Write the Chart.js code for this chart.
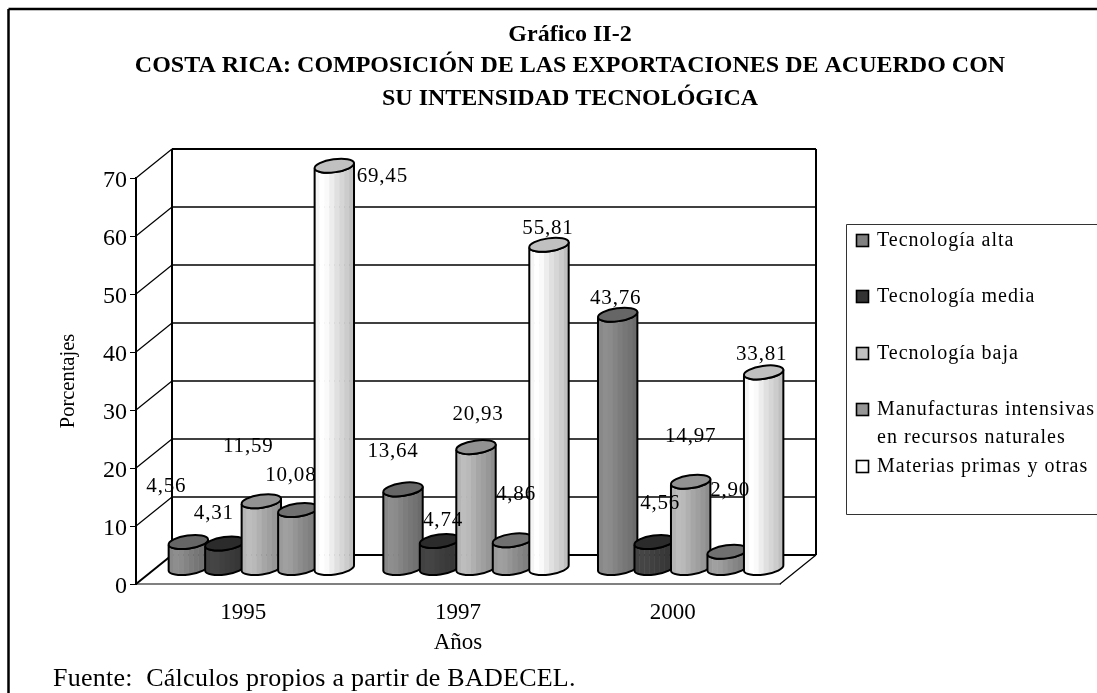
<!DOCTYPE html>
<html>
<head>
<meta charset="utf-8">
<title>Gráfico II-2</title>
<script src="https://cdn.jsdelivr.net/npm/chart.js@4"></script>
<style>
    html, body { margin: 0; background: #fff; }
    canvas { display: block; }
</style>
</head>
<body>
<canvas id="costaRicaChart" width="1097" height="693"></canvas>
<script>
const years = ["1995", "1997", "2000"];
const seriesNames = ["Tecnología alta", "Tecnología media", "Tecnología baja", "Manufacturas intensivas\nen recursos naturales", "Materias primas y otras"];
const tecnologiaAlta = [4.56, 13.64, 43.76];
const tecnologiaMedia = [4.31, 4.74, 4.56];
const tecnologiaBaja = [11.59, 20.93, 14.97];
const manufacturas = [10.08, 4.86, 2.90];
const materiasPrimas = [69.45, 55.81, 33.81];
const yTicks = [0, 10, 20, 30, 40, 50, 60, 70];
const titleLines = ["Gráfico II-2", "COSTA RICA: COMPOSICIÓN DE LAS EXPORTACIONES DE ACUERDO CON", "SU INTENSIDAD TECNOLÓGICA"];
const sourceNote = "Fuente:  Cálculos propios a partir de BADECEL.";

const allSeries = [tecnologiaAlta, tecnologiaMedia, tecnologiaBaja, manufacturas, materiasPrimas];

// colours
const bodyColors = ["#8e8e8e", "#454545", "#bdbdbd", "#a0a0a0", "#ffffff"];
const capColors = ["#666666", "#2b2b2b", "#929292", "#707070", "#c0c0c0"];
const swatchColors = ["#808080", "#333333", "#c0c0c0", "#969696", "#ffffff"];
const bandShades = [0.96, 1, 0.98, 0.93, 0.88, 0.84, 0.8, 0.75];

// layout, the picture is an oblique 3D view
const SERIF = '"Liberation Serif", "Times New Roman", serif';
const wallDx = 36, wallDy = -29;     // front plane -> back wall
const barDx = 18, barDy = -15.5;     // bars stand half way
const capRy = 6.5, capTilt = -8 * Math.PI / 180;
const legendRowY = [246, 302, 359, 415, 472];
const titleBaselines = [41, 72, 105];
const titleCenter = 570;

// where each value label sits relative to the top of its bar, per series then per year
const labelNudge = [
    [[-22, -57], [-10, -39], [-2, -18]],
    [[-11, -31.5], [3.5, -22], [6, -40]],
    [[-13, -56], [2, -34], [0, -47]],
    [[-7, -36.5], [3.5, -47], [3, -63]],
    [[48, 9], [-1, -18], [-2, -19]]
];

function shade(hex, k) {
    const n = parseInt(hex.slice(1), 16);
    const r = Math.round(((n >> 16) & 255) * k);
    const g = Math.round(((n >> 8) & 255) * k);
    const b = Math.round((n & 255) * k);
    return `rgb(${r},${g},${b})`;
}

// bars are drawn as standing cylinders from the element's own x, y, base and width
// borderColor of the dataset is used for the top cap
Chart.BarElement.prototype.draw = function (ctx) {
    const { x, y, base, width } = this.getProps(["x", "y", "base", "width"]);
    const cx = x + barDx;
    const topY = y + barDy;
    const botY = base + barDy;
    const rx = width / 2;
    const bandColor = this.options.backgroundColor;
    const capColor = this.options.borderColor;

    ctx.save();
    ctx.beginPath();
    ctx.ellipse(cx, topY, rx, capRy, capTilt, Math.PI, 0, true);
    ctx.ellipse(cx, botY, rx, capRy, capTilt, 0, Math.PI, false);
    ctx.closePath();
    ctx.save();
    ctx.clip();
    const bandW = width / bandShades.length;
    bandShades.forEach((k, i) => {
        ctx.fillStyle = shade(bandColor, k);
        ctx.fillRect(cx - rx + i * bandW, topY - 20, bandW + 0.5, botY - topY + 40);
    });
    ctx.restore();
    ctx.lineWidth = 2;
    ctx.strokeStyle = "#000";
    ctx.stroke();

    ctx.beginPath();
    ctx.ellipse(cx, topY, rx, capRy, capTilt, 0, Math.PI * 2);
    ctx.fillStyle = capColor;
    ctx.fill();
    ctx.stroke();
    ctx.restore();
};

function line(ctx, x1, y1, x2, y2, width, color) {
    ctx.beginPath();
    ctx.moveTo(x1, y1);
    ctx.lineTo(x2, y2);
    ctx.lineWidth = width;
    ctx.strokeStyle = color;
    ctx.stroke();
}

function text(ctx, str, x, y, font, align, spacing) {
    ctx.font = font;
    ctx.textAlign = align;
    ctx.textBaseline = "alphabetic";
    ctx.letterSpacing = (spacing || 0) + "px";
    ctx.fillStyle = "#000";
    ctx.fillText(str, x, y);
    ctx.letterSpacing = "0px";
}

const backWall = {
    id: "backWall",
    beforeDatasetsDraw(chart) {
        const { ctx, chartArea, scales } = chart;
        const y = scales.y;
        const left = chartArea.left, right = chartArea.right;
        const zero = y.getPixelForValue(0), top = y.getPixelForValue(70);
        ctx.save();
        yTicks.forEach(v => {
            const py = y.getPixelForValue(v);
            if (v > 0 && v < 70) line(ctx, left + wallDx, py + wallDy, right + wallDx, py + wallDy, 1.5, "#000");
            if (v > 0) line(ctx, left, py, left + wallDx, py + wallDy, 1.2, "#000");
        });
        line(ctx, left + wallDx, top + wallDy, right + wallDx, top + wallDy, 2, "#000");
        line(ctx, left + wallDx, top + wallDy, left + wallDx, zero + wallDy, 2, "#000");
        line(ctx, right + wallDx, top + wallDy, right + wallDx, zero + wallDy, 2, "#000");
        line(ctx, left + wallDx, zero + wallDy, right + wallDx, zero + wallDy, 2, "#000");
        line(ctx, left, zero, left + wallDx, zero + wallDy, 2, "#000");
        line(ctx, right, zero, right + wallDx, zero + wallDy, 1.2, "#000");
        ctx.restore();
    },
    // chart.js paints the first dataset last, here the last bar has to overlap the others
    beforeDatasetDraw() {
        return false;
    },
    afterDatasetsDraw(chart) {
        const { ctx } = chart;
        allSeries.forEach((values, s) => chart.getDatasetMeta(s).controller.draw());
        ctx.save();
        allSeries.forEach((values, s) => {
            const bars = chart.getDatasetMeta(s).data;
            values.forEach((v, i) => {
                const nudge = labelNudge[s][i];
                const label = v.toFixed(2).replace(".", ",");
                text(ctx, label, bars[i].x + barDx + nudge[0], bars[i].y + barDy + nudge[1] + 7, "21px " + SERIF, "center", 0.8);
            });
        });
        ctx.restore();
    },
    afterDraw(chart) {
        const { ctx } = chart;
        ctx.save();
        // outer frame runs off the picture on the right and bottom
        line(ctx, 8.5, 693, 8.5, 9, 2.5, "#000");
        line(ctx, 8.5, 9, 1097, 9, 2.5, "#000");

        titleLines.forEach((t, i) => {
            text(ctx, t, titleCenter, titleBaselines[i], "bold 24px " + SERIF, "center", 0);
        });
        text(ctx, sourceNote, 53, 686, "26px " + SERIF, "left", 0.25);

        // legend box is cut by the right edge too
        ctx.beginPath();
        ctx.rect(846.5, 224.5, 300, 290);
        ctx.lineWidth = 1;
        ctx.strokeStyle = "#333";
        ctx.stroke();
        seriesNames.forEach((name, i) => {
            const rows = name.split("\n");
            const base = legendRowY[i];
            ctx.fillStyle = swatchColors[i];
            ctx.fillRect(856.5, base - 11.5, 12, 12);
            ctx.lineWidth = 1.6;
            ctx.strokeStyle = "#000";
            ctx.strokeRect(856.5, base - 11.5, 12, 12);
            rows.forEach((row, r) => {
                text(ctx, row, 877, base + r * 28, "20px " + SERIF, "left", 1);
            });
        });
        ctx.restore();
    }
};

const datasets = allSeries.map((values, s) => ({
    label: seriesNames[s].replace("\n", " "),
    data: values,
    backgroundColor: bodyColors[s],
    borderColor: capColors[s],
    categoryPercentage: 0.85,
    barPercentage: 1.09
}));

new Chart(document.getElementById("costaRicaChart"), {
    type: "bar",
    data: { labels: years, datasets: datasets },
    plugins: [backWall],
    options: {
        responsive: false,
        animation: false,
        layout: { padding: { top: 178, right: 317, left: 0, bottom: 0 } },
        plugins: {
            legend: { display: false },
            title: { display: false },
            tooltip: { enabled: false }
        },
        scales: {
            x: {
                grid: { display: false },
                border: { color: "#808080", width: 2 },
                ticks: { color: "#000", font: { family: SERIF, size: 23 }, padding: 7, maxRotation: 0 },
                title: { display: true, text: "Años", color: "#000", font: { family: SERIF, size: 23 }, padding: { bottom: 36 } },
                afterFit(scale) { scale.height = 109; }
            },
            y: {
                min: 0,
                max: 70,
                afterBuildTicks(scale) { scale.ticks = yTicks.map(v => ({ value: v })); },
                grid: { drawOnChartArea: false, drawTicks: true, tickLength: 6, color: "#000", lineWidth: 1 },
                border: { color: "#000", width: 2 },
                ticks: { color: "#000", font: { family: SERIF, size: 24 }, padding: 3, labelOffset: 3 },
                title: { display: true, text: "Porcentajes", color: "#000", font: { family: SERIF, size: 20.5 }, padding: { top: 56 } },
                afterFit(scale) { scale.width = 136; }
            }
        }
    }
});
</script>
</body>
</html>
